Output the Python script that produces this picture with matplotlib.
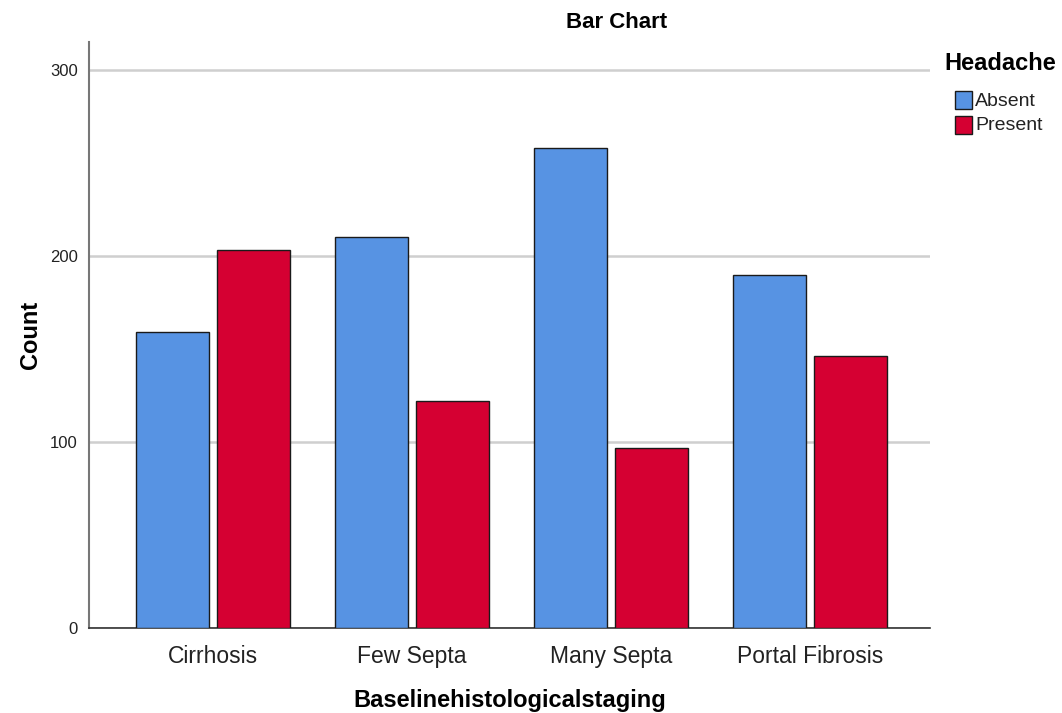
import numpy as np
import matplotlib.pyplot as plt
from matplotlib.patches import Rectangle

plt.rcParams['font.family'] = ['Liberation Sans', 'DejaVu Sans']

# data
categories = ["Cirrhosis", "Few Septa", "Many Septa", "Portal Fibrosis"]
absent = [159, 210, 258, 190]
present = [203, 122, 97, 146]
series_names = ["Absent", "Present"]
yticks = [0, 100, 200, 300]

blue = "#5793E3"
red = "#D50032"
colors = [blue, red]

W, H = 1062, 713
fig = plt.figure(figsize=(W / 100, H / 100), dpi=100)
ax = fig.add_axes([89 / W, 1 - 628 / H, (930 - 89) / W, (628 - 42) / H])

x = np.arange(len(categories))
w = 0.367
off = 0.205
ax.bar(x - off, absent, width=w, color=blue, edgecolor="#1a1a1a", linewidth=1.0, zorder=3)
ax.bar(x + off, present, width=w, color=red, edgecolor="#1a1a1a", linewidth=1.0, zorder=3)

ax.set_xlim(-0.623, 3.603)
ax.set_ylim(0, 315)
ax.set_yticks(yticks)
ax.set_xticks(x)
ax.set_xticklabels(categories, fontsize=16.5, color="#222222")
ax.tick_params(axis="y", length=0, pad=8, labelsize=12, labelcolor="#222222")
ax.tick_params(axis="x", length=0, pad=12)
ax.grid(axis="y", color="#cfcfcf", linewidth=1.8, zorder=0)
ax.set_axisbelow(True)

for s in ["top", "right"]:
    ax.spines[s].set_visible(False)
ax.spines["left"].set_color("#777777")
ax.spines["left"].set_linewidth(1.5)
ax.spines["bottom"].set_color("#333333")
ax.spines["bottom"].set_linewidth(1.2)

# axis titles and chart title placed in figure pixels
fig.text(30 / W, 1 - 335 / H, "Count", fontsize=17, fontweight="bold",
         rotation=90, ha="center", va="center")
fig.text(510 / W, 1 - 700 / H, "Baselinehistologicalstaging", fontsize=17,
         fontweight="bold", ha="center", va="center")
fig.text(617 / W, 1 - 22 / H, "Bar Chart", fontsize=16, fontweight="bold",
         ha="center", va="center")

# legend
fig.text(944 / W, 1 - 64 / H, "Headache", fontsize=17, fontweight="bold",
         ha="left", va="center")
for i, (name, c) in enumerate(zip(series_names, colors)):
    yc = 100 + i * 25
    fig.add_artist(Rectangle((955 / W, 1 - (yc + 9) / H), 17 / W, 18 / H,
                             transform=fig.transFigure, facecolor=c,
                             edgecolor="#1a1a1a", linewidth=1.0))
    fig.text(975 / W, 1 - (yc + 1) / H, name, fontsize=14, color="#222222",
             ha="left", va="center")

fig.savefig("out.png", dpi=100)
